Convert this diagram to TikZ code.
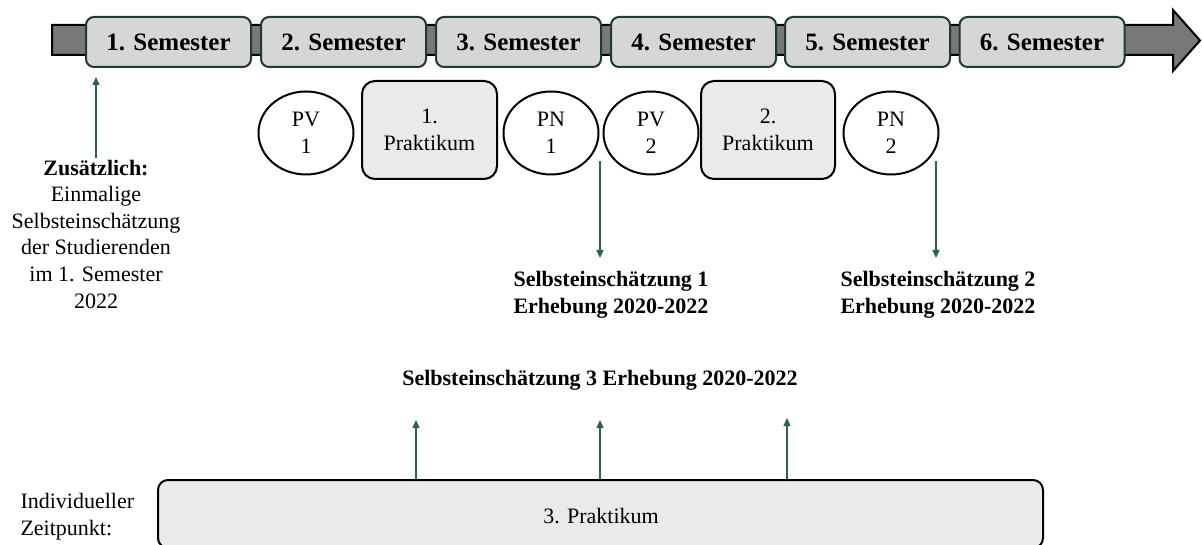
\documentclass[tikz,border=0pt]{standalone}
\usepackage{fontspec}
\setmainfont{Liberation Serif}
\usepackage{tikz}
\usetikzlibrary{positioning,shapes.geometric,arrows.meta}

\definecolor{semfill}{HTML}{D6D6D6}
\definecolor{semrand}{HTML}{1F3B2E}
\definecolor{balken}{HTML}{787878}
\definecolor{pfeilgruen}{HTML}{2F6150}
\definecolor{prakfill}{HTML}{EAEAEA}

\newcommand{\textgross}{\fontsize{22}{26.6}\selectfont}

\tikzset{
  semester/.style={draw=semrand, line width=2pt, fill=semfill, rounded corners=8pt,
    minimum width=165pt, minimum height=50pt, inner sep=0pt,
    font=\fontsize{25}{30}\selectfont\bfseries},
  pruefung/.style={ellipse, draw, line width=2pt, fill=white, minimum width=95pt,
    minimum height=83pt, inner sep=0pt, align=center, font=\textgross},
  praktikum/.style={draw, line width=2pt, fill=prakfill, rounded corners=13pt,
    inner sep=0pt, align=center, font=\textgross},
  hinweis/.style={pfeilgruen, line width=1.3pt, -{Triangle[length=8pt, width=7pt]}},
  erhebung/.style={align=center, font=\textgross\bfseries}
}

\begin{document}
\begin{tikzpicture}[x=1pt, y=-1pt]
\useasboundingbox (0,0) rectangle (1202,545);

% Zeitstrahl
\draw[line width=2pt, fill=balken] (52,25) -- (1173,25) -- (1173,10) -- (1200,40.5)
  -- (1173,71) -- (1173,55) -- (52,55) -- cycle;

\node[semester] (sem1) at (168.5,42) {1. Semester};
\node[semester] (sem2) at (343.5,42) {2. Semester};
\node[semester] (sem3) at (518.5,42) {3. Semester};
\node[semester] (sem4) at (693.5,42) {4. Semester};
\node[semester] (sem5) at (867.5,42) {5. Semester};
\node[semester] (sem6) at (1042,42) {6. Semester};

% Pruefungen und Praktika
\node[pruefung] (pv1) at (306,133) {PV\\1};
\node[praktikum, minimum width=135pt, minimum height=98pt] (prak1) at (429.5,130) {1.\\Praktikum};
\node[pruefung] (pn1) at (551,133) {PN\\1};
\node[pruefung] (pv2) at (651,133) {PV\\2};
\node[praktikum, minimum width=134pt, minimum height=98pt] (prak2) at (768,130) {2.\\Praktikum};
\node[pruefung] (pn2) at (891,133) {PN\\2};

% Zusaetzlich
\node[align=center, font=\textgross, inner sep=2pt] (zus) at (96,234)
  {\textbf{Zusätzlich:}\\Einmalige\\Selbsteinschätzung\\der Studierenden\\im 1. Semester\\2022};
\coordinate (zusziel) at (96,77);
\draw[hinweis] (zus.north) -- (zusziel);

% Selbsteinschaetzung 1 und 2
\node[erhebung] (se1) at (611,295) {Selbsteinschätzung 1\\Erhebung 2020-2022};
\node[erhebung] (se2) at (938,295) {Selbsteinschätzung 2\\Erhebung 2020-2022};
\coordinate (ab1) at (600,161);
\coordinate (ab1ziel) at (600,258);
\coordinate (ab2) at (936,161);
\coordinate (ab2ziel) at (936,258);
\draw[hinweis] (ab1) -- (ab1ziel);
\draw[hinweis] (ab2) -- (ab2ziel);

% Selbsteinschaetzung 3
\node[erhebung] (se3) at (600,380) {Selbsteinschätzung 3 Erhebung 2020-2022};

\node[praktikum, minimum width=885pt, minimum height=68pt, rounded corners=10pt] (prak3)
  at (600.5,514) {};
\node[font=\textgross] (prak3text) at (601,516) {3. Praktikum};
\node[align=left, font=\textgross, anchor=west] (indiv) at (17,516.5) {Individueller\\Zeitpunkt:};

\coordinate (auf1) at (416,420);
\coordinate (auf2) at (600,420);
\coordinate (auf3) at (787,418);
\draw[hinweis] (auf1 |- prak3.north) -- (auf1);
\draw[hinweis] (auf2 |- prak3.north) -- (auf2);
\draw[hinweis] (auf3 |- prak3.north) -- (auf3);

\end{tikzpicture}
\end{document}
